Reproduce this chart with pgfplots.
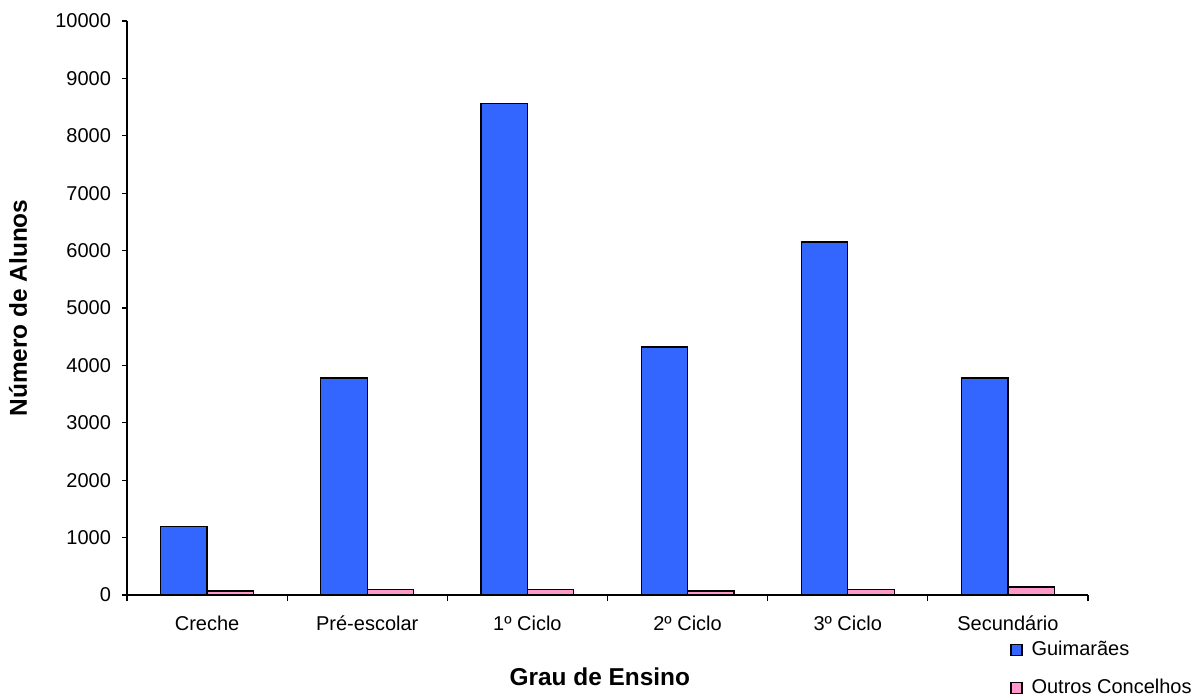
\documentclass[border=0pt]{standalone}
\usepackage{fontspec}
\setmainfont{Liberation Sans}
\usepackage{pgfplots}
\pgfplotsset{compat=1.18}
\definecolor{gblue}{HTML}{3366FF}
\definecolor{opink}{HTML}{FF99CC}
\begin{document}
\begin{tikzpicture}
\useasboundingbox (-63.5pt,-50.5pt) rectangle (536.5pt,297.5pt);
\begin{axis}[
  at={(0,0)}, anchor=south west,
  scale only axis, width=480.5pt, height=287pt,
  xmin=-0.5, xmax=5.5, ymin=0, ymax=10000,
  axis lines*=left,
  axis line style={line width=0.6pt},
  tick align=outside,
  major tick length=2.5pt,
  minor tick length=3pt,
  xtick={0,1,2,3,4,5},
  xticklabels={Creche,Pré-escolar,1º Ciclo,2º Ciclo,3º Ciclo,Secundário},
  minor xtick={-0.5,0.5,1.5,2.5,3.5,4.5,5.5},
  major x tick style={draw=none},
  minor x tick style={line width=0.6pt, black},
  ytick={0,1000,...,10000},
  ytick style={line width=0.6pt, black},
  scaled y ticks=false,
  /pgf/number format/1000 sep={},
  /pgf/number format/assume math mode=true,
  tick label style={font=\fontsize{10}{12}\selectfont},
  xticklabel style={yshift=-4.5pt},
  yticklabel style={xshift=-2pt},
  ylabel={Número de Alunos},
  xlabel={Grau de Ensino},
  label style={font=\fontsize{12.2}{14}\selectfont\bfseries},
  ylabel style={at={(axis description cs:-0.1134,0.5)}, anchor=center},
  xlabel style={at={(axis description cs:0.492,-0.1429)}, anchor=center},
  legend style={at={(axis description cs:0.9188,-0.0732)}, anchor=north west,
    draw=none, fill=none, inner sep=0pt, row sep=6pt, column sep=2.5pt,
    font=\fontsize{10}{12}\selectfont, cells={anchor=west}},
  legend image code/.code={\draw[#1, line width=0.6pt] (0pt,-2.75pt) rectangle (5.5pt,2.75pt);},
]
\addplot[ybar, bar width=0.29, bar shift=-0.145, fill=gblue, draw=black, line width=0.6pt]
  coordinates {(0,1200) (1,3780) (2,8560) (3,4320) (4,6150) (5,3780)};
\addplot[ybar, bar width=0.29, bar shift=0.145, fill=opink, draw=black, line width=0.6pt]
  coordinates {(0,70) (1,100) (2,100) (3,70) (4,100) (5,140)};
\legend{Guimarães, Outros Concelhos}
\end{axis}
\end{tikzpicture}
\end{document}
